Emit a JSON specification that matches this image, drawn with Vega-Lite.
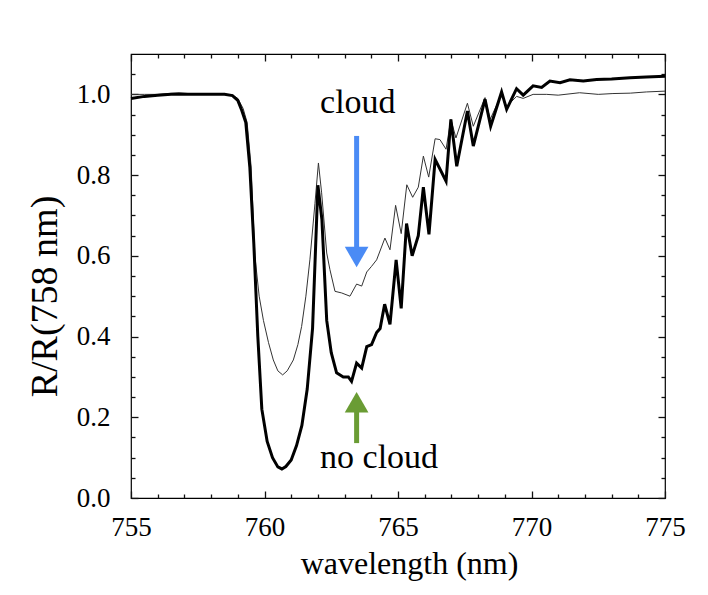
{
  "$schema": "https://vega.github.io/schema/vega-lite/v6.json",
  "width": 534,
  "height": 444,
  "autosize": {"type": "none"},
  "padding": {"left": 131, "top": 54, "right": 43, "bottom": 97},
  "background": "white",
  "datasets": {
    "cloud": [
      {"wl":755.0,"r":1.0},{"wl":755.5,"r":1.0},{"wl":756.0,"r":1.0},{"wl":756.8,"r":1.004},{"wl":757.5,"r":1.0},{"wl":758.0,"r":1.0},{"wl":758.5,"r":1.0},{"wl":758.8,"r":0.998},{"wl":759.0,"r":0.99},{"wl":759.2,"r":0.965},{"wl":759.35,"r":0.93},{"wl":759.5,"r":0.82},{"wl":759.64,"r":0.6},{"wl":759.8,"r":0.5},{"wl":759.96,"r":0.44},{"wl":760.15,"r":0.385},{"wl":760.33,"r":0.342},{"wl":760.5,"r":0.315},{"wl":760.68,"r":0.305},{"wl":760.85,"r":0.315},{"wl":761.08,"r":0.342},{"wl":761.25,"r":0.38},{"wl":761.39,"r":0.425},{"wl":761.55,"r":0.5},{"wl":761.7,"r":0.59},{"wl":761.89,"r":0.73},{"wl":762.02,"r":0.83},{"wl":762.14,"r":0.756},{"wl":762.33,"r":0.607},{"wl":762.45,"r":0.566},{"wl":762.64,"r":0.512},{"wl":762.89,"r":0.508},{"wl":763.2,"r":0.5},{"wl":763.45,"r":0.53},{"wl":763.64,"r":0.525},{"wl":763.83,"r":0.56},{"wl":764.01,"r":0.574},{"wl":764.2,"r":0.59},{"wl":764.51,"r":0.644},{"wl":764.7,"r":0.615},{"wl":764.91,"r":0.725},{"wl":765.12,"r":0.655},{"wl":765.33,"r":0.776},{"wl":765.55,"r":0.745},{"wl":765.76,"r":0.77},{"wl":765.95,"r":0.847},{"wl":766.15,"r":0.795},{"wl":766.39,"r":0.89},{"wl":766.57,"r":0.888},{"wl":766.8,"r":0.864},{"wl":766.98,"r":0.938},{"wl":767.17,"r":0.892},{"wl":767.6,"r":0.978},{"wl":767.82,"r":0.921},{"wl":768.26,"r":0.992},{"wl":768.45,"r":0.938},{"wl":768.88,"r":1.0},{"wl":769.07,"r":0.97},{"wl":769.44,"r":0.995},{"wl":769.69,"r":0.99},{"wl":770.06,"r":1.0},{"wl":770.57,"r":1.0},{"wl":771.0,"r":0.998},{"wl":771.8,"r":1.004},{"wl":772.5,"r":1.0},{"wl":773.05,"r":1.002},{"wl":773.7,"r":1.003},{"wl":774.3,"r":1.006},{"wl":775.0,"r":1.008}
    ],
    "nocloud": [
      {"wl":755.0,"r":0.99},{"wl":755.5,"r":0.995},{"wl":756.0,"r":0.998},{"wl":756.5,"r":1.0},{"wl":757.0,"r":1.0},{"wl":757.5,"r":1.0},{"wl":758.0,"r":1.0},{"wl":758.5,"r":1.0},{"wl":758.8,"r":0.997},{"wl":759.0,"r":0.985},{"wl":759.15,"r":0.96},{"wl":759.3,"r":0.93},{"wl":759.45,"r":0.82},{"wl":759.6,"r":0.63},{"wl":759.75,"r":0.4},{"wl":759.9,"r":0.22},{"wl":760.1,"r":0.14},{"wl":760.3,"r":0.1},{"wl":760.5,"r":0.077},{"wl":760.65,"r":0.072},{"wl":760.8,"r":0.078},{"wl":761.0,"r":0.094},{"wl":761.2,"r":0.13},{"wl":761.4,"r":0.18},{"wl":761.6,"r":0.27},{"wl":761.8,"r":0.42},{"wl":762.0,"r":0.775},{"wl":762.15,"r":0.69},{"wl":762.33,"r":0.44},{"wl":762.5,"r":0.36},{"wl":762.7,"r":0.31},{"wl":762.95,"r":0.3},{"wl":763.14,"r":0.3},{"wl":763.26,"r":0.289},{"wl":763.45,"r":0.334},{"wl":763.64,"r":0.322},{"wl":763.83,"r":0.375},{"wl":764.01,"r":0.38},{"wl":764.2,"r":0.41},{"wl":764.33,"r":0.42},{"wl":764.5,"r":0.48},{"wl":764.7,"r":0.43},{"wl":764.93,"r":0.59},{"wl":765.12,"r":0.47},{"wl":765.32,"r":0.68},{"wl":765.53,"r":0.6},{"wl":765.76,"r":0.65},{"wl":765.95,"r":0.77},{"wl":766.16,"r":0.653},{"wl":766.39,"r":0.839},{"wl":766.8,"r":0.785},{"wl":766.98,"r":0.938},{"wl":767.2,"r":0.822},{"wl":767.6,"r":0.959},{"wl":767.82,"r":0.872},{"wl":768.26,"r":0.988},{"wl":768.47,"r":0.921},{"wl":768.88,"r":1.006},{"wl":769.07,"r":0.963},{"wl":769.44,"r":1.014},{"wl":769.69,"r":0.998},{"wl":770.06,"r":1.021},{"wl":770.38,"r":1.017},{"wl":770.69,"r":1.033},{"wl":771.07,"r":1.029},{"wl":771.44,"r":1.036},{"wl":771.94,"r":1.033},{"wl":772.44,"r":1.037},{"wl":773.0,"r":1.038},{"wl":773.69,"r":1.041},{"wl":774.3,"r":1.043},{"wl":775.0,"r":1.045}
    ],
    "shafts": [
      {"wl":763.45,"r":0.897,"r2":0.615,"kind":"cloud"},
      {"wl":763.45,"r":0.136,"r2":0.225,"kind":"no cloud"}
    ],
    "heads": [
      {"wl":763.45,"r":0.597,"kind":"cloud"},
      {"wl":763.45,"r":0.237,"kind":"no cloud"}
    ],
    "labels": [
      {"wl":762.08,"r":0.955,"label":"cloud"},
      {"wl":762.08,"r":0.074,"label":"no cloud"}
    ]
  },
  "layer": [
    {
      "data": {"name": "cloud"},
      "mark": {"type": "line", "stroke": "#333333", "strokeWidth": 1},
      "encoding": {
        "x": {"field": "wl", "type": "quantitative",
              "scale": {"domain": [755, 775], "nice": false, "zero": false},
              "axis": {"orient": "bottom", "values": [755, 760, 765, 770, 775], "offset": -7, "tickSize": 7, "labelPadding": 16, "labelFlush": false,
                       "title": "wavelength (nm)", "titleX": 278, "titleY": 82, "titleBaseline": "alphabetic", "titleAlign": "center"}},
        "y": {"field": "r", "type": "quantitative",
              "scale": {"domain": [0, 1.1], "nice": false, "zero": true},
              "axis": {"orient": "left", "values": [0, 0.2, 0.4, 0.6, 0.8, 1.0], "format": ".1f", "offset": -7, "tickSize": 7, "labelPadding": 21, "labelFlush": false,
                       "title": "R/R(758 nm)", "titleFontSize": 38, "titleX": -82, "titleY": 242, "titleBaseline": "alphabetic", "titleAlign": "center", "titleAngle": -90}}
      }
    },
    {
      "data": {"name": "nocloud"},
      "mark": {"type": "line", "stroke": "black", "strokeWidth": 3, "strokeJoin": "miter"},
      "encoding": {
        "x": {"field": "wl", "type": "quantitative",
              "axis": {"orient": "top", "values": [755, 760, 765, 770, 775], "offset": -7, "tickSize": 7, "labels": false, "title": null}},
        "y": {"field": "r", "type": "quantitative",
              "axis": {"orient": "right", "values": [0, 0.2, 0.4, 0.6, 0.8, 1.0], "offset": -7, "tickSize": 7, "labels": false, "title": null}}
      }
    },
    {
      "data": {"name": "shafts"},
      "mark": {"type": "rule", "strokeWidth": 5},
      "encoding": {
        "x": {"field": "wl", "type": "quantitative",
              "axis": {"orient": "bottom", "values": [756,757,758,759,761,762,763,764,766,767,768,769,771,772,773,774], "offset": -4, "tickSize": 4, "labels": false, "title": null}},
        "y": {"field": "r", "type": "quantitative",
              "axis": {"orient": "left", "values": [0.05,0.1,0.15,0.25,0.3,0.35,0.45,0.5,0.55,0.65,0.7,0.75,0.85,0.9,0.95,1.05], "offset": -4, "tickSize": 4, "labels": false, "title": null}},
        "y2": {"field": "r2"},
        "color": {"field": "kind", "type": "nominal", "legend": null,
                  "scale": {"domain": ["cloud", "no cloud"], "range": ["#4A8BF5", "#6A9C34"]}}
      }
    },
    {
      "data": {"name": "heads"},
      "mark": {"type": "point", "filled": true, "opacity": 1, "size": 560},
      "encoding": {
        "x": {"field": "wl", "type": "quantitative",
              "axis": {"orient": "top", "values": [756,757,758,759,761,762,763,764,766,767,768,769,771,772,773,774], "offset": -4, "tickSize": 4, "labels": false, "title": null}},
        "y": {"field": "r", "type": "quantitative",
              "axis": {"orient": "right", "values": [0.05,0.1,0.15,0.25,0.3,0.35,0.45,0.5,0.55,0.65,0.7,0.75,0.85,0.9,0.95,1.05], "offset": -4, "tickSize": 4, "labels": false, "title": null}},
        "color": {"field": "kind", "type": "nominal", "legend": null},
        "shape": {"field": "kind", "type": "nominal", "legend": null,
                  "scale": {"domain": ["cloud", "no cloud"], "range": ["triangle-down", "triangle-up"]}}
      }
    },
    {
      "data": {"name": "labels"},
      "mark": {"type": "text", "align": "left", "baseline": "alphabetic", "font": "Liberation Serif", "fontSize": 34, "color": "black"},
      "encoding": {
        "x": {"field": "wl", "type": "quantitative", "axis": null},
        "y": {"field": "r", "type": "quantitative", "axis": null},
        "text": {"field": "label"}
      }
    }
  ],
  "resolve": {"axis": {"x": "independent", "y": "independent"}},
  "config": {
    "view": {"stroke": "black", "strokeWidth": 1.2},
    "axis": {
      "grid": false, "domain": false, "ticks": true, "zindex": 1,
      "tickColor": "#111111", "tickWidth": 1.3, "tickOpacity": 1,
      "labelFont": "Liberation Serif", "labelFontSize": 27, "labelColor": "black",
      "titleFont": "Liberation Serif", "titleFontSize": 32, "titleFontWeight": "normal", "titleColor": "black"
    }
  }
}
